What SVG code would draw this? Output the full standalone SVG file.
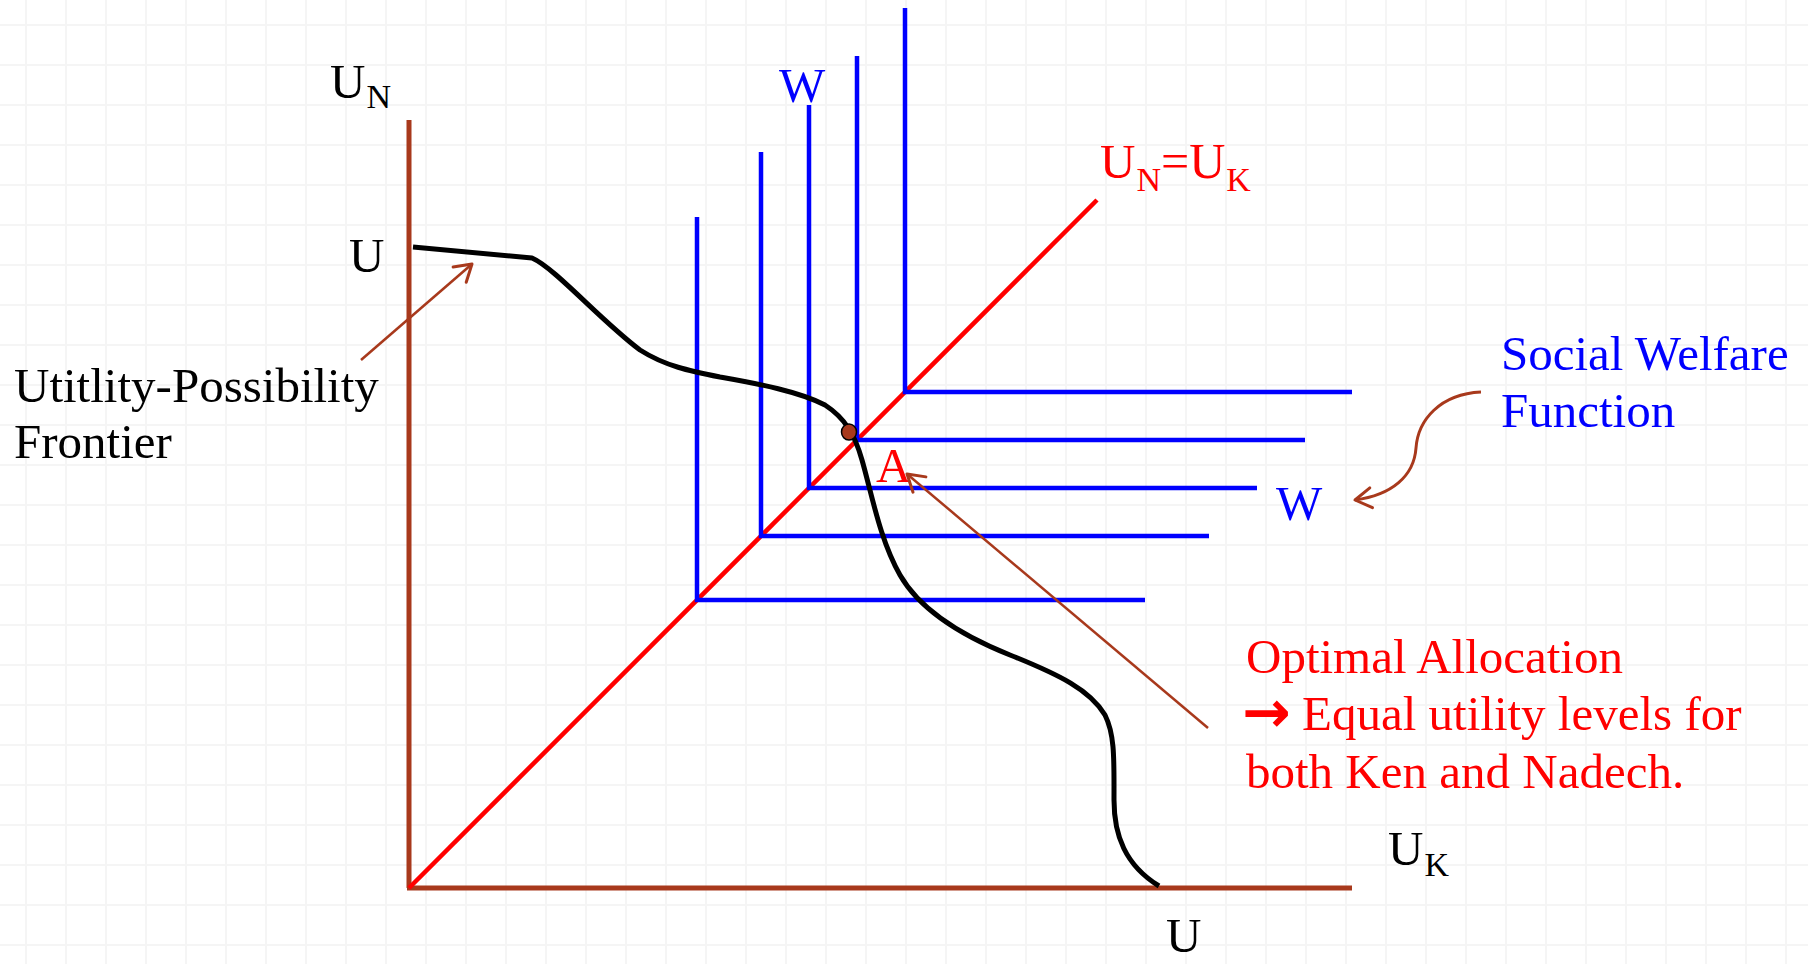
<svg xmlns="http://www.w3.org/2000/svg" width="1808" height="964" viewBox="0 0 1808 964">
  <defs>
    <pattern id="grid" x="25" y="24" width="40" height="40" patternUnits="userSpaceOnUse">
      <path d="M1,0 V40 M0,1 H40" stroke="#F5F5F5" stroke-width="2" fill="none"/>
    </pattern>
    <marker id="openArrow" viewBox="0 0 20 24" refX="19" refY="12" markerWidth="20" markerHeight="24" markerUnits="userSpaceOnUse" orient="auto" overflow="visible">
      <path d="M2.7,2 L19,12 L2.7,22" fill="none" stroke="#A8391C" stroke-width="3" stroke-linecap="round" stroke-linejoin="round"/>
    </marker>
    <style>
      .txt { font-family: "Liberation Serif", "Times New Roman", serif; font-size: 49px; }
      .black { fill: #000000; }
      .blue { fill: #0000FF; }
      .red { fill: #FF0000; }
      .axis { stroke: #A8391C; stroke-width: 5; fill: none; }
      .diag { stroke: #FF0000; stroke-width: 4.5; fill: none; }
      .swf { stroke: #0000FF; stroke-width: 4.5; fill: none; }
      .upf { stroke: #000000; stroke-width: 5; fill: none; stroke-linejoin: round; }
      .note { stroke: #A8391C; fill: none; marker-end: url(#openArrow); }
      .sub { font-size: 34px; }
    </style>
  </defs>

  <rect x="0" y="0" width="1808" height="964" fill="#FFFFFF"/>
  <rect x="0" y="0" width="1808" height="964" fill="url(#grid)"/>

  <g id="axes">
    <line class="axis" x1="409" y1="120" x2="409" y2="888"/>
    <line class="axis" x1="407" y1="888" x2="1352" y2="888"/>
  </g>

  <g id="equality-line">
    <line class="diag" x1="409" y1="888" x2="1097" y2="200"/>
  </g>

  <g id="social-welfare-curves">
    <polyline class="swf" points="697,217 697,600 1145,600"/>
    <polyline class="swf" points="761,152 761,536 1209,536"/>
    <polyline class="swf" points="809,105 809,488 1257,488"/>
    <polyline class="swf" points="857,56 857,440 1305,440"/>
    <polyline class="swf" points="905,8 905,392 1352,392"/>
  </g>

  <g id="utility-possibility-frontier">
    <path class="upf" d="M413,247 L532,258 C555,268 600,320 640,350 C665,366 690,371 720,377 C760,384 800,392 825,405 C845,418 855,435 862,460 C872,495 880,540 900,575 C920,610 960,635 1010,655 C1060,675 1090,690 1105,715 C1115,735 1114,760 1114,800 C1114,835 1125,865 1159,886"/>
  </g>

  <g id="point-A">
    <ellipse cx="849" cy="432" rx="7.5" ry="8" fill="#A8391C" stroke="#000000" stroke-width="1.5"/>
    <text class="txt red" x="876" y="482" font-size="52">A</text>
  </g>

  <g id="connectors">
    <line class="note" stroke-width="2.5" x1="361" y1="360" x2="472" y2="264"/>
    <line class="note" stroke-width="2.5" x1="1208" y1="728" x2="907" y2="474"/>
    <path class="note" stroke-width="3" d="M1481,392 C1440,394 1418,420 1416,448 C1414,476 1392,495 1355,500"/>
  </g>

  <g id="label-UN">
    <text class="txt black" x="330" y="98" font-size="50">U<tspan class="sub" dx="1" dy="10">N</tspan></text>
  </g>
  <g id="label-U-top">
    <text class="txt black" x="349" y="272" font-size="50">U</text>
  </g>
  <g id="label-UK">
    <text class="txt black" x="1388" y="865" font-size="50">U<tspan class="sub" dx="1" dy="11">K</tspan></text>
  </g>
  <g id="label-U-bottom">
    <text class="txt black" x="1166" y="952" font-size="50">U</text>
  </g>
  <g id="label-W-top">
    <text class="txt blue" x="779" y="102" font-size="52">W</text>
  </g>
  <g id="label-W-right">
    <text class="txt blue" x="1276" y="520" font-size="52">W</text>
  </g>
  <g id="label-equality">
    <text class="txt red" x="1100" y="178" font-size="50">U<tspan class="sub" dx="1" dy="13">N</tspan><tspan dy="-13" font-size="50">=U</tspan><tspan class="sub" dx="1" dy="13">K</tspan></text>
  </g>
  <g id="label-frontier">
    <text class="txt black" x="14" y="402">Utitlity-Possibility</text>
    <text class="txt black" x="14" y="458">Frontier</text>
  </g>
  <g id="label-swf">
    <text class="txt blue" x="1501" y="370">Social Welfare</text>
    <text class="txt blue" x="1501" y="427">Function</text>
  </g>
  <g id="label-optimal">
    <text class="txt red" x="1246" y="673">Optimal Allocation</text>
    <text class="txt red" x="1242" y="732"><tspan font-family="'DejaVu Sans', sans-serif" font-weight="bold" font-size="58">→</tspan><tspan x="1302" y="730">Equal utility levels for</tspan></text>
    <text class="txt red" x="1246" y="788">both Ken and Nadech.</text>
  </g>
</svg>
